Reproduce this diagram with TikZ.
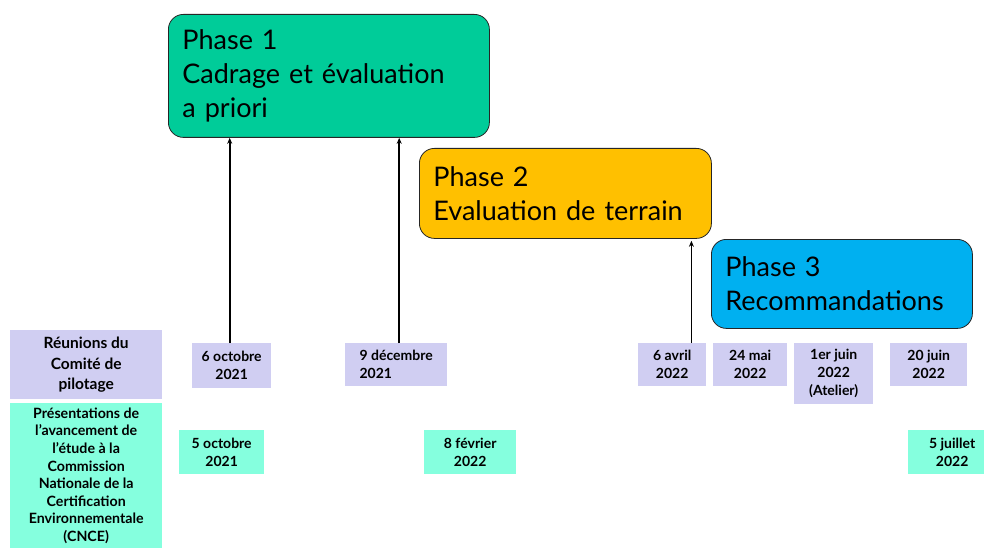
\documentclass[tikz,border=0pt]{standalone}
\usepackage{fontspec}
\setmainfont{Lato}
\usetikzlibrary{arrows.meta,calc}
\definecolor{phaseA}{RGB}{0,204,153}
\definecolor{phaseB}{RGB}{255,192,0}
\definecolor{phaseC}{RGB}{0,176,240}
\definecolor{lav}{RGB}{208,206,242}
\definecolor{aqua}{RGB}{133,255,222}
\begin{document}
\begin{tikzpicture}[x=1pt,y=-1pt,
  phasebox/.style={draw=black!85, line width=0.8pt, rounded corners=15pt, anchor=north west,
    inner xsep=14pt, inner ysep=0pt, align=left, font=\fontsize{27}{34}\selectfont},
  datebox/.style={anchor=north west, inner sep=0pt, align=center,
    font=\bfseries\fontsize{14}{18}\selectfont},
  lavbox/.style={datebox, fill=lav},
  aquabox/.style={datebox, fill=aqua},
  arr/.style={line width=1.8pt, -{Stealth[length=6pt,width=5pt]}}]
\useasboundingbox (0,0) rectangle (984,548);

% phases
\node[phasebox, fill=phaseA, minimum width=321pt, minimum height=123pt, text width=293pt]
  (p1) at (168,14) {Phase 1\\Cadrage et évaluation\\a priori};
\node[phasebox, fill=phaseB, minimum width=292pt, minimum height=90pt, text width=264pt]
  (p2) at (419,148) {Phase 2\\Evaluation de terrain};
\node[phasebox, fill=phaseC, minimum width=261pt, minimum height=89pt, text width=233pt]
  (p3) at (711,239) {Phase 3\\Recommandations};

% row headers
\node[lavbox, minimum width=152pt, minimum height=69pt, font=\bfseries\fontsize{15.5}{20.5}\selectfont]
  (h1) at (10,330) {Réunions du\\Comité de\\pilotage};
\node[aquabox, minimum width=152pt, minimum height=145pt, font=\bfseries\fontsize{14.2}{17.6}\selectfont]
  (h2) at (10,403) {Présentations de\\l’avancement de\\l’étude à  la\\Commission\\Nationale de la\\Certification\\Environnementale\\(CNCE)};

% comité dates
\node[lavbox, minimum width=79pt, minimum height=45pt] (d1) at (192,343) {6 octobre\\2021};
\node[lavbox, minimum width=102pt, minimum height=43pt, align=left] (d2) at (345,343) {9 décembre\\2021};
\node[lavbox, minimum width=68pt, minimum height=43pt] (d3) at (638,343) {6 avril\\2022};
\node[lavbox, minimum width=74pt, minimum height=43pt] (d4) at (713,343) {24 mai\\2022};
\node[lavbox, minimum width=79pt, minimum height=61pt] (d5) at (794,343) {1er juin\\2022\\(Atelier)};
\node[lavbox, minimum width=77pt, minimum height=43pt] (d6) at (890,343) {20 juin\\2022};

% CNCE dates
\node[aquabox, minimum width=85pt, minimum height=44pt] (c1) at (179,430) {5 octobre\\2021};
\node[aquabox, minimum width=92pt, minimum height=44pt] (c2) at (424,430) {8 février\\2022};
\node[aquabox, minimum width=76pt, minimum height=44pt] (c3) at (908,430) {\hspace*{12pt}5 juillet\\\hspace*{12pt}2022};

% arrows
\draw[arr] ($(d1.north)+(-2,0)$) -- ($(d1.north |- p1.south)+(-2,0)$);
\draw[arr] ($(d2.north)+(3,0)$) -- ($(d2.north |- p1.south)+(3,0)$);
\draw[arr] ($(d3.north east)+(-15,0)$) -- ($(d3.north east |- p2.south)+(-15,2)$);
\end{tikzpicture}
\end{document}
